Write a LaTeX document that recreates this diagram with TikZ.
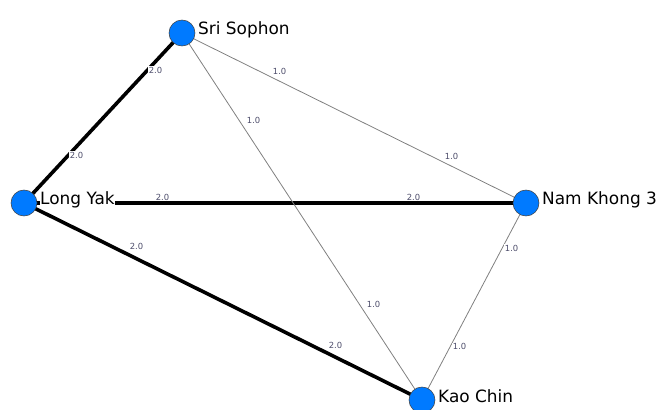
\documentclass[tikz,border=0pt]{standalone}
\usepackage{fontspec}
\setmainfont{DejaVu Sans}
\usetikzlibrary{backgrounds}
\definecolor{stationblue}{RGB}{0,122,255}
\definecolor{weightgray}{RGB}{78,78,108}
\tikzset{
  station/.style={circle,draw=black!75,line width=0.4pt,fill=stationblue,minimum size=19.5pt,inner sep=0pt},
  stationname/.style={anchor=west,fill=white,inner sep=0.5pt,font=\fontsize{12.7}{14}\selectfont},
  heavy/.style={line width=2.7pt,black},
  light/.style={line width=0.6pt,black!50},
  weight/.style={anchor=south west,xshift=3pt,fill=white,inner sep=0.4pt,text=weightgray,font=\fontsize{6.3}{7}\selectfont},
}
\begin{document}
\begin{tikzpicture}[x=0.75pt,y=-0.75pt]
  \clip (0,0) rectangle (658,410);
  % stations
  \node[station] (ss) at (182,33) {};
  \node[station] (ly) at (24,203) {};
  \node[station] (nk) at (526,203) {};
  \node[station] (kc) at (422,400) {};
  \node[stationname] (ssname) at ([xshift=1.5pt,yshift=2.5pt]ss.east) {Sri Sophon};
  \node[stationname] (lyname) at ([xshift=1.5pt,yshift=2.5pt]ly.east) {Long Yak};
  \node[stationname] (nkname) at ([xshift=1.5pt,yshift=2.5pt]nk.east) {Nam Khong 3};
  \node[stationname] (kcname) at ([xshift=1.5pt,yshift=2.5pt]kc.east) {Kao Chin};
  % weighted links
  \begin{pgfonlayer}{background}
    \draw[heavy] (ly.center) -- node[weight,pos=0.25] {2.0} node[weight,pos=0.75] {2.0} (ss.center);
    \draw[heavy] (ly.center) -- node[weight,pos=0.25] {2.0} node[weight,pos=0.75] {2.0} (nk.center);
    \draw[heavy] (ly.center) -- node[weight,pos=0.25] {2.0} node[weight,pos=0.75] {2.0} (kc.center);
    \draw[light] (ss.center) -- node[weight,pos=0.25] {1.0} node[weight,pos=0.75] {1.0} (nk.center);
    \draw[light] (ss.center) -- node[weight,pos=0.25] {1.0} node[weight,pos=0.75] {1.0} (kc.center);
    \draw[light] (nk.center) -- node[weight,pos=0.25] {1.0} node[weight,pos=0.75] {1.0} (kc.center);
  \end{pgfonlayer}
\end{tikzpicture}
\end{document}
